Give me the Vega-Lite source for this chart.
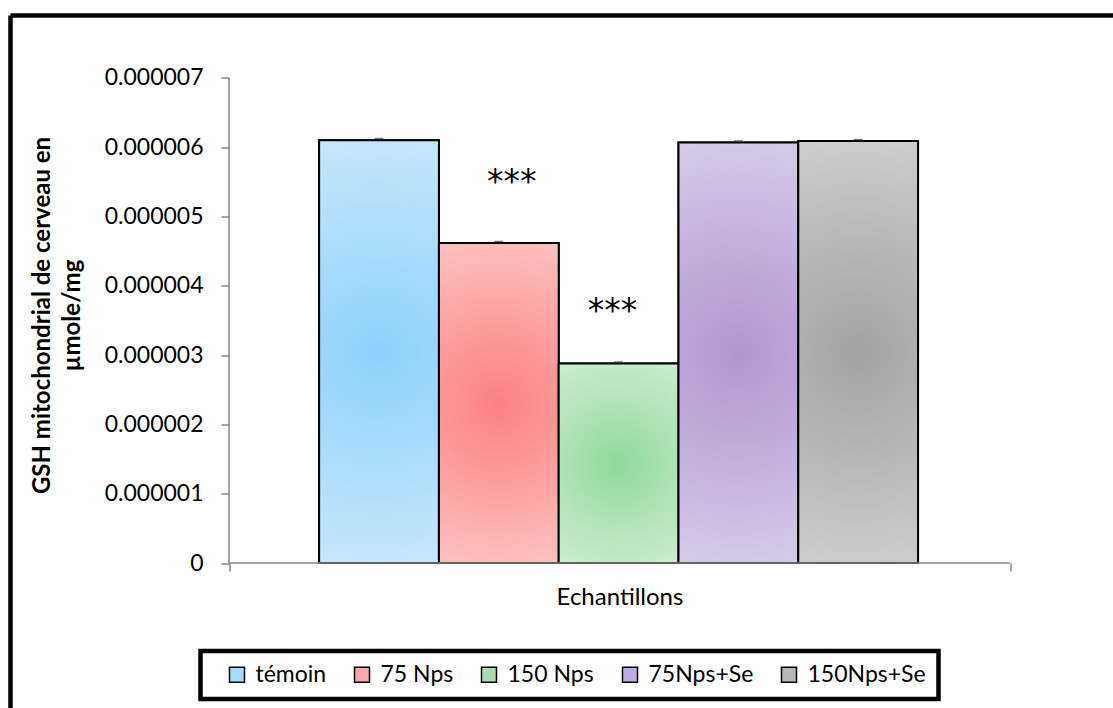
{
  "$schema": "https://vega.github.io/schema/vega-lite/v6.json",
  "autosize": "none",
  "width": 1102.5,
  "height": 692.5,
  "padding": {"left": 10.5, "top": 15.5, "right": 0, "bottom": 0},
  "background": "white",
  "config": {
    "view": {"stroke": "black", "strokeWidth": 4.5, "strokeDash": [1102.5, 1795, 692.5, 0], "fill": "white"},
    "font": "Lato",
    "axis": {"labelFont": "Lato", "titleFont": "Lato", "labelColor": "black", "titleColor": "black", "grid": false}
  },
  "data": {"values": [
    {"cat": "Echantillons", "groupe": "témoin", "valeur": 6.10e-6, "haut": 6.125e-6, "sig": ""},
    {"cat": "Echantillons", "groupe": "75 Nps", "valeur": 4.62e-6, "haut": 4.64e-6, "sig": "***"},
    {"cat": "Echantillons", "groupe": "150 Nps", "valeur": 2.88e-6, "haut": 2.90e-6, "sig": "***"},
    {"cat": "Echantillons", "groupe": "75Nps+Se", "valeur": 6.07e-6, "haut": 6.09e-6, "sig": ""},
    {"cat": "Echantillons", "groupe": "150Nps+Se", "valeur": 6.09e-6, "haut": 6.11e-6, "sig": ""}
  ]},
  "layer": [
    {
      "mark": {"type": "bar", "stroke": "black", "strokeWidth": 2},
      "encoding": {
        "x": {
          "field": "cat", "type": "nominal",
          "scale": {"type": "band", "paddingInner": 0, "paddingOuter": 0.205826, "align": 0.67963},
          "axis": {"orient": "bottom", "offset": -145, "domain": false, "ticks": true, "tickBand": "extent", "tickSize": 8, "tickColor": "#868686", "tickWidth": 1.5, "labelFontSize": 24, "labelPadding": 14, "labelAngle": 0, "title": null}
        },
        "xOffset": {
          "field": "groupe", "type": "nominal",
          "scale": {"domain": ["témoin", "75 Nps", "150 Nps", "75Nps+Se", "150Nps+Se"], "paddingInner": 0, "paddingOuter": 0.76, "align": 0.495}
        },
        "y": {
          "field": "valeur", "type": "quantitative", "stack": null,
          "scale": {"domain": [-2.09278e-6, 7.90206e-6], "nice": false, "zero": false},
          "axis": {
            "orient": "left", "offset": -218.5, "domain": false,
            "values": [0, 1e-6, 2e-6, 3e-6, 4e-6, 5e-6, 6e-6, 7e-6],
            "labelExpr": "datum.value == 0 ? '0' : format(datum.value, '.6f')",
            "tickSize": 8, "tickColor": "#868686", "tickWidth": 1.5,
            "labelFontSize": 23, "labelPadding": 18, "labelFlush": false, "labelOverlap": false,
            "title": ["GSH mitochondrial de cerveau en", "µmole/mg"],
            "titleFontSize": 24, "titleFontWeight": "bold", "titlePadding": 20, "titleLineHeight": 30, "titleY": 299.5
          }
        },
        "color": {
          "field": "groupe", "type": "nominal",
          "scale": {"domain": ["témoin", "75 Nps", "150 Nps", "75Nps+Se", "150Nps+Se"], "range": ["#a6dcfb", "#f9a8a8", "#a8dcb0", "#c0ace0", "#b8b8b8"]},
          "legend": {
            "orient": "none", "legendX": 190, "legendY": 635.5, "direction": "horizontal",
            "title": " ", "titleOrient": "left", "titleFontSize": 23, "titlePadding": 13,
            "symbolType": "square", "symbolSize": 225, "symbolStrokeColor": "black", "symbolStrokeWidth": 1.5, "symbolOpacity": 1,
            "labelFont": "Lato", "labelFontSize": 23, "labelColor": "black", "labelOffset": 7, "columnPadding": 24,
            "padding": 12, "strokeColor": "black", "fillColor": "white",
            "encode": {"legend": {"update": {"strokeWidth": {"value": 4.5}}}}
          }
        }
      }
    },
    {
      "transform": [{"filter": "datum.groupe === 'témoin'"}],
      "mark": {"type": "bar", "stroke": "black", "strokeWidth": 2, "fill": {"gradient": "radial", "x1": 0.5, "y1": 0.5, "r1": 0, "x2": 0.5, "y2": 0.5, "r2": 0.72, "stops": [{"offset": 0, "color": "#8cd1fb"}, {"offset": 1, "color": "#dcf0fd"}]}},
      "encoding": {"x": {"field": "cat", "type": "nominal"}, "xOffset": {"field": "groupe", "type": "nominal"}, "y": {"field": "valeur", "type": "quantitative", "stack": null}}
    },
    {
      "transform": [{"filter": "datum.groupe === '75 Nps'"}],
      "mark": {"type": "bar", "stroke": "black", "strokeWidth": 2, "fill": {"gradient": "radial", "x1": 0.5, "y1": 0.5, "r1": 0, "x2": 0.5, "y2": 0.5, "r2": 0.72, "stops": [{"offset": 0, "color": "#fb8080"}, {"offset": 1, "color": "#fdd8d8"}]}},
      "encoding": {"x": {"field": "cat", "type": "nominal"}, "xOffset": {"field": "groupe", "type": "nominal"}, "y": {"field": "valeur", "type": "quantitative", "stack": null}}
    },
    {
      "transform": [{"filter": "datum.groupe === '150 Nps'"}],
      "mark": {"type": "bar", "stroke": "black", "strokeWidth": 2, "fill": {"gradient": "radial", "x1": 0.5, "y1": 0.5, "r1": 0, "x2": 0.5, "y2": 0.5, "r2": 0.72, "stops": [{"offset": 0, "color": "#8ed99c"}, {"offset": 1, "color": "#dcf1de"}]}},
      "encoding": {"x": {"field": "cat", "type": "nominal"}, "xOffset": {"field": "groupe", "type": "nominal"}, "y": {"field": "valeur", "type": "quantitative", "stack": null}}
    },
    {
      "transform": [{"filter": "datum.groupe === '75Nps+Se'"}],
      "mark": {"type": "bar", "stroke": "black", "strokeWidth": 2, "fill": {"gradient": "radial", "x1": 0.5, "y1": 0.5, "r1": 0, "x2": 0.5, "y2": 0.5, "r2": 0.72, "stops": [{"offset": 0, "color": "#b095d0"}, {"offset": 1, "color": "#e5dfef"}]}},
      "encoding": {"x": {"field": "cat", "type": "nominal"}, "xOffset": {"field": "groupe", "type": "nominal"}, "y": {"field": "valeur", "type": "quantitative", "stack": null}}
    },
    {
      "transform": [{"filter": "datum.groupe === '150Nps+Se'"}],
      "mark": {"type": "bar", "stroke": "black", "strokeWidth": 2, "fill": {"gradient": "radial", "x1": 0.5, "y1": 0.5, "r1": 0, "x2": 0.5, "y2": 0.5, "r2": 0.72, "stops": [{"offset": 0, "color": "#a2a2a2"}, {"offset": 1, "color": "#dedede"}]}},
      "encoding": {"x": {"field": "cat", "type": "nominal"}, "xOffset": {"field": "groupe", "type": "nominal"}, "y": {"field": "valeur", "type": "quantitative", "stack": null}}
    },
    {
      "mark": {"type": "tick", "size": 9, "thickness": 1.5, "color": "#3a3a3a"},
      "encoding": {"x": {"field": "cat", "type": "nominal"}, "xOffset": {"field": "groupe", "type": "nominal"}, "y": {"field": "haut", "type": "quantitative"}}
    },
    {
      "data": {"values": [{"cat": "Echantillons"}]},
      "mark": {"type": "rule", "color": "#868686", "strokeWidth": 1.5},
      "encoding": {"x": {"field": "cat", "type": "nominal", "bandPosition": 0}, "y": {"datum": 0}, "y2": {"datum": 7e-6}}
    },
    {
      "data": {"values": [{"cat": "Echantillons"}]},
      "mark": {"type": "rule", "color": "#868686", "strokeWidth": 1.5},
      "encoding": {"x": {"field": "cat", "type": "nominal", "bandPosition": 0}, "x2": {"field": "cat", "bandPosition": 1}, "y": {"datum": 0}}
    },
    {
      "transform": [{"filter": "datum.groupe === '75 Nps'"}],
      "mark": {"type": "text", "font": "DejaVu Sans", "fontSize": 33, "color": "black", "baseline": "middle", "dx": 13, "dy": -60},
      "encoding": {"x": {"field": "cat", "type": "nominal"}, "xOffset": {"field": "groupe", "type": "nominal"}, "y": {"field": "valeur", "type": "quantitative"}, "text": {"field": "sig"}}
    },
    {
      "transform": [{"filter": "datum.groupe === '150 Nps'"}],
      "mark": {"type": "text", "font": "DejaVu Sans", "fontSize": 33, "color": "black", "baseline": "middle", "dx": -6, "dy": -51},
      "encoding": {"x": {"field": "cat", "type": "nominal"}, "xOffset": {"field": "groupe", "type": "nominal"}, "y": {"field": "valeur", "type": "quantitative"}, "text": {"field": "sig"}}
    }
  ]
}
